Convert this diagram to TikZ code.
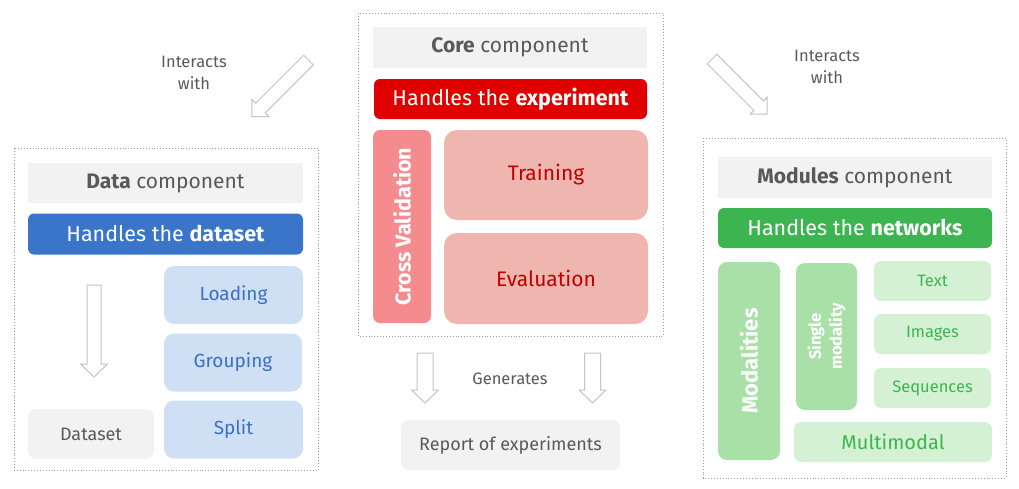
\documentclass[tikz,border=0pt]{standalone}
\usepackage{fontspec}
\setmainfont{Fira Sans}
\definecolor{greyfill}{HTML}{F2F2F2}
\definecolor{greytext}{HTML}{595959}
\definecolor{bluedark}{HTML}{3B75C9}
\definecolor{bluelight}{HTML}{CFE0F4}
\definecolor{bluetext}{HTML}{3A70C4}
\definecolor{reddark}{HTML}{E00000}
\definecolor{redmid}{HTML}{F48C8F}
\definecolor{redlight}{HTML}{EFB6AF}
\definecolor{redtext}{HTML}{C00000}
\definecolor{greendark}{HTML}{3CB44F}
\definecolor{greenmid}{HTML}{A8E0A8}
\definecolor{greenlight}{HTML}{D4F1D4}
\definecolor{greentext}{HTML}{3DB54F}
\definecolor{arrowgrey}{HTML}{C4C4C4}
\tikzset{
  frame/.style={draw=gray!80, dotted, line width=0.9pt},
  box/.style={draw=none, inner sep=0pt, align=center, font=\fontsize{19}{21}\selectfont},
  titlebox/.style={box, fill=greyfill, text=greytext, font=\fontsize{21}{23}\selectfont},
  headbox/.style={box, rounded corners=6pt, text=white, font=\fontsize{21.5}{23}\selectfont},
  subbox/.style={box, rounded corners=10pt},
  plain/.style={inner sep=0pt, text=greytext, align=center, font=\fontsize{16.5}{22}\selectfont},
  harrowstyle/.style={draw=arrowgrey, line width=1pt, fill=white, line join=miter},
}
% hollow arrow: x y angle length shaftwidth headhalf headlength
\newcommand{\harrow}[7]{%
  \begin{scope}[shift={(#1,#2)},rotate=#3]
    \draw[harrowstyle] (0,-#5/2) -- ({#4-#7},-#5/2) -- ({#4-#7},-#6) -- (#4,0)
      -- ({#4-#7},#6) -- ({#4-#7},#5/2) -- (0,#5/2) -- cycle;
  \end{scope}}
\begin{document}
\begin{tikzpicture}[x=1pt,y=-1pt]
\useasboundingbox (0,0) rectangle (1019,488);
% frames
\draw[frame] (14,148) rectangle (318,470);
\draw[frame] (358,13) rectangle (663,336);
\draw[frame] (703,138) rectangle (1006,478);

% Data component
\node[titlebox, minimum width=275, minimum height=40] (dtitle) at (165.5,183) {\textbf{Data} component};
\node[headbox, fill=bluedark, minimum width=275, minimum height=41] (dhead) at (165.5,234) {Handles the \textbf{dataset}};
\node[subbox, fill=bluelight, text=bluetext, minimum width=139, minimum height=58] (load) at (233.5,295) {Loading};
\node[subbox, fill=bluelight, text=bluetext, minimum width=138, minimum height=58] (group) at (233,362.5) {Grouping};
\node[subbox, fill=bluelight, text=bluetext, minimum width=139, minimum height=58] (split) at (233.5,429.5) {Split};
\node[subbox, rounded corners=8pt, fill=greyfill, text=greytext, minimum width=126, minimum height=50, font=\fontsize{18}{20}\selectfont] (dataset) at (91,434) {Dataset};
\harrow{94}{285}{-90}{92}{14}{13.5}{13}

% Core component
\node[titlebox, minimum width=274, minimum height=41] (ctitle) at (510,47.5) {\textbf{Core} component};
\node[headbox, fill=reddark, minimum width=273, minimum height=40] (chead) at (510.5,99) {Handles the \textbf{experiment}};
\node[subbox, rounded corners=7pt, fill=redmid, text=white, minimum width=193, minimum height=58, rotate=90, font=\bfseries\fontsize{21.5}{23}\selectfont] (cv) at (402,226.5) {Cross Validation};
\node[subbox, rounded corners=13pt, fill=redlight, text=redtext, minimum width=204, minimum height=90, font=\fontsize{21}{23}\selectfont] (train) at (546,175) {Training};
\node[subbox, rounded corners=13pt, fill=redlight, text=redtext, minimum width=204, minimum height=91, font=\fontsize{21}{23}\selectfont] (eval) at (546,278.5) {Evaluation};
\harrow{425}{353}{-90}{50}{16}{13.5}{13}
\harrow{592.5}{353}{-90}{50}{16}{13.5}{13}
\node[plain] (gen) at (510,379) {Generates};
\node[subbox, rounded corners=8pt, fill=greyfill, text=greytext, minimum width=219, minimum height=50, font=\fontsize{18}{20}\selectfont] (report) at (510.5,445) {Report of experiments};

% Modules component
\node[titlebox, minimum width=274, minimum height=41] (mtitle) at (855,177.5) {\textbf{Modules} component};
\node[headbox, fill=greendark, minimum width=274, minimum height=40] (mhead) at (855,228) {Handles the \textbf{networks}};
\node[subbox, rounded corners=9pt, fill=greenmid, text=white, minimum width=198, minimum height=62, rotate=90, font=\bfseries\fontsize{22}{24}\selectfont] (modal) at (749,361) {Modalities};
\node[subbox, rounded corners=9pt, fill=greenmid, text=white, minimum width=147, minimum height=61, rotate=90, font=\bfseries\fontsize{16.5}{21}\selectfont] (single) at (826.5,336.5) {Single\\modality};
\node[subbox, rounded corners=7pt, fill=greenlight, text=greentext, minimum width=117, minimum height=40, font=\fontsize{16.5}{18}\selectfont] (text) at (932.5,281) {Text};
\node[subbox, rounded corners=7pt, fill=greenlight, text=greentext, minimum width=117, minimum height=40, font=\fontsize{16.5}{18}\selectfont] (images) at (932.5,334) {Images};
\node[subbox, rounded corners=7pt, fill=greenlight, text=greentext, minimum width=117, minimum height=40, font=\fontsize{16.5}{18}\selectfont] (seq) at (932.5,388) {Sequences};
\node[subbox, rounded corners=7pt, fill=greenlight, text=greentext, minimum width=198, minimum height=40, font=\fontsize{20}{22}\selectfont] (multi) at (893,442) {Multimodal};

% Interacts with
\node[plain] (iwl) at (194,73) {Interacts\\with};
\node[plain] (iwr) at (827,67) {Interacts\\with};
\harrow{308.5}{60}{-135}{80}{13.5}{12}{12}
\harrow{712}{59}{-45}{78}{13.5}{12}{12}
\end{tikzpicture}
\end{document}
